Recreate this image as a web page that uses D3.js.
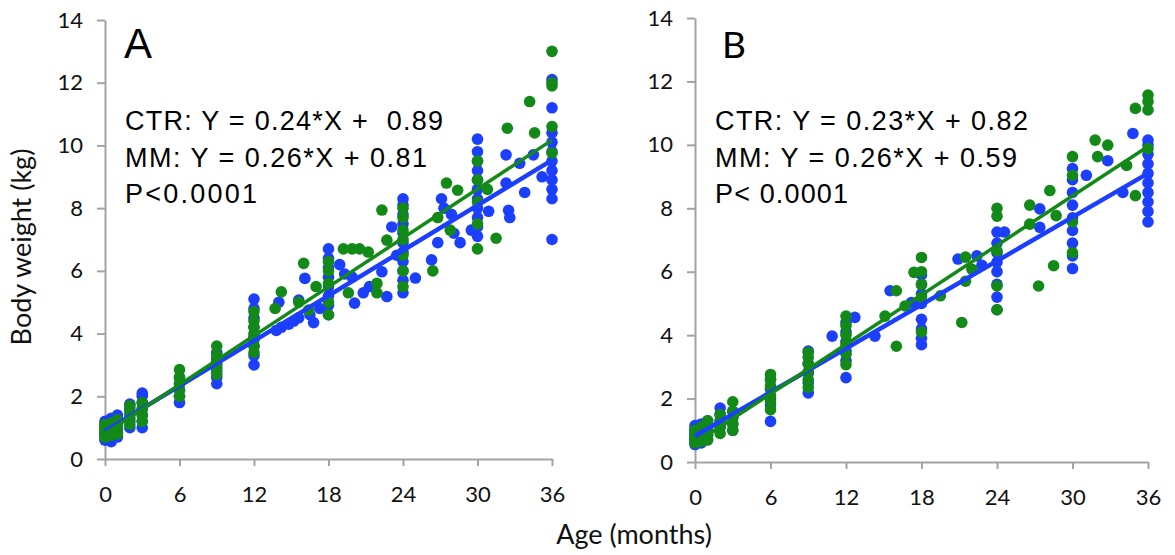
<!DOCTYPE html>
<html><head><meta charset="utf-8">
<script src="https://cdn.jsdelivr.net/npm/d3@7"></script>
<style>body{margin:0;background:#fff}svg{display:block}text{white-space:pre}</style>
</head><body><svg id="c" width="1175" height="555"></svg>
<script>
// ---------- data ----------
const ageTicks = [0, 6, 12, 18, 24, 30, 36];
const weightTicks = [0, 2, 4, 6, 8, 10, 12, 14];

// Panel A, CTR (blue) : [age (months), body weight (kg)]
const ctrA = [
  [0,0.6],[0,0.7],[0,0.8],[0,0.9],[0,1.0],[0,1.1],[0,1.2],
  [0.5,0.55],[0.5,0.75],[0.5,0.9],[0.5,1.05],[0.5,1.2],[0.5,1.3],
  [1,0.7],[1,0.85],[1,1.0],[1,1.15],[1,1.3],[1,1.4],
  [2,1.0],[2,1.2],[2,1.4],[2,1.6],[2,1.75],
  [3,1.0],[3,1.2],[3,1.4],[3,1.6],[3,1.8],[3,2.0],[3,2.1],
  [6,1.8],[6,2.0],[6,2.2],[6,2.4],[6,2.6],
  [9,2.4],[9,2.6],[9,2.8],[9,3.0],[9,3.2],[9,3.4],
  [12,3.0],[12,3.3],[12,3.6],[12,3.9],[12,4.2],[12,4.5],[12,4.8],[12,5.1],
  [13.8,4.1],[14.0,5.0],[14.2,4.2],[14.8,4.3],[15.2,4.4],[15.6,4.5],[15.6,5.07],[16.1,5.76],[16.5,4.6],[16.8,4.35],[17.3,4.8],
  [18,4.6],[18,4.9],[18,5.2],[18,5.5],[18,5.8],[18,6.1],[18,6.4],[18,6.7],
  [18.9,6.2],[19.3,5.9],[19.9,5.8],[20.1,4.97],[20.8,5.3],[21.3,5.5],[22.3,5.97],[22.7,5.18],[23.1,7.4],[23.5,6.5],
  [24,5.3],[24,5.7],[24,6.0],[24,6.3],[24,6.6],[24,6.9],[24,7.2],[24,7.5],[24,7.8],[24,8.1],[24,8.3],
  [25.0,5.77],[26.3,6.35],[26.8,6.9],[27.1,8.3],[27.3,8.0],[27.9,7.8],[28.1,7.2],[28.6,6.9],[29.5,7.3],
  [30,7.1],[30,7.4],[30,7.7],[30,8.0],[30,8.3],[30,8.6],[30,8.9],[30,9.2],[30,9.5],[30,9.8],[30,10.2],
  [30.9,7.9],[32.3,9.7],[32.3,8.8],[32.5,7.93],[32.6,7.7],[33.4,9.43],[33.8,8.5],[34.5,9.7],[35.2,9.0],
  [36,7.0],[36,8.3],[36,8.6],[36,8.9],[36,9.2],[36,9.5],[36,9.8],[36,10.1],[36,10.4],[36,11.2],[36,12.1]
];
// Panel A, MM (green)
const mmA = [
  [0,0.7],[0,0.8],[0,0.9],[0,1.0],[0,1.1],
  [0.5,0.75],[0.5,0.85],[0.5,0.95],[0.5,1.05],[0.5,1.15],
  [1,0.8],[1,0.95],[1,1.1],[1,1.25],
  [2,1.1],[2,1.3],[2,1.5],[2,1.7],
  [3,1.2],[3,1.4],[3,1.6],[3,1.8],
  [6,2.0],[6,2.2],[6,2.4],[6,2.6],[6,2.85],
  [9,2.7],[9,2.9],[9,3.1],[9,3.3],[9,3.6],
  [12,3.4],[12,3.6],[12,3.8],[12,4.0],[12,4.2],[12,4.4],[12,4.7],
  [13.7,4.8],[14.2,5.33],[15.6,5.0],[16.0,6.24],[16.4,4.75],[17.0,5.5],
  [18,4.6],[18,5.0],[18,5.6],[18,6.0],[18,6.3],
  [19.2,6.7],[19.6,5.3],[19.9,6.7],[20.5,6.7],[21.2,6.6],[21.9,5.3],[21.9,5.6],[22.3,7.94],[22.7,6.98],
  [24,5.5],[24,6.0],[24,6.5],[24,7.0],[24,7.3],[24,7.7],[24,8.0],
  [26.4,6.0],[26.8,7.7],[27.5,8.8],[27.8,7.3],[28.4,8.57],
  [30,6.7],[30,7.5],[30,8.2],[30,8.9],[30,9.5],
  [30.8,8.6],[31.5,7.04],[32.4,10.55],[34.2,11.4],[34.6,10.4],
  [36,9.76],[36,10.6],[36,11.9],[36,12.0],[36,13.0]
];
// Panel B, CTR (blue)
const ctrB = [
  [0,0.55],[0,0.65],[0,0.75],[0,0.85],[0,0.95],[0,1.05],[0,1.15],
  [0.5,0.6],[0.5,0.75],[0.5,0.9],[0.5,1.05],[0.5,1.2],
  [1,0.7],[1,0.85],[1,1.0],[1,1.15],[1,1.3],
  [2,1.1],[2,1.3],[2,1.5],[2,1.7],
  [3,1.0],[3,1.2],[3,1.4],[3,1.6],
  [6,1.28],[6,1.8],[6,2.0],[6,2.3],[6,2.6],
  [9,2.18],[9,2.5],[9,2.8],[9,3.1],[9,3.5],
  [12,2.66],[12,3.2],[12,3.5],[12,3.8],[12,4.1],[12,4.4],
  [10.9,3.97],[12.7,4.56],[14.3,3.97],[15.5,5.4],[17.2,5.03],
  [18,3.7],[18,3.9],[18,4.2],[18,4.5],[18,5.0],[18,5.3],[18,5.6],[18,5.9],
  [20.9,6.4],[22.4,6.5],[22.8,6.2],
  [24,4.8],[24,5.2],[24,5.6],[24,6.0],[24,6.3],[24,6.6],[24,6.9],[24,7.25],
  [24.6,7.25],[27.4,7.98],[27.4,7.4],
  [30,6.1],[30,6.5],[30,6.9],[30,7.3],[30,7.7],[30,8.1],[30,8.5],[30,8.9],[30,9.25],
  [31.1,9.04],[32.8,9.5],[34.0,8.5],[34.8,10.36],
  [36,7.57],[36,7.9],[36,8.2],[36,8.5],[36,8.8],[36,9.1],[36,9.4],[36,9.7],[36,10.0],[36,10.15]
];
// Panel B, MM (green)
const mmB = [
  [0,0.6],[0,0.7],[0,0.8],[0,0.9],[0,1.0],
  [0.5,0.65],[0.5,0.8],[0.5,0.95],[0.5,1.1],
  [1,0.7],[1,0.85],[1,1.0],[1,1.2],[1,1.3],
  [2,0.9],[2,1.1],[2,1.3],[2,1.5],
  [3,1.0],[3,1.2],[3,1.4],[3,1.6],[3,1.9],
  [6,1.65],[6,1.9],[6,2.1],[6,2.4],[6,2.6],[6,2.76],
  [9,2.35],[9,2.6],[9,2.85],[9,3.1],[9,3.3],[9,3.45],
  [12,3.07],[12,3.4],[12,3.7],[12,4.0],[12,4.3],[12,4.6],
  [15.1,4.6],[16.0,3.65],[16.0,5.4],[16.7,4.92],[17.4,5.98],
  [18,4.1],[18,5.2],[18,5.6],[18,6.0],[18,6.45],
  [19.5,5.24],[21.2,4.4],[21.5,6.46],[21.5,5.7],[22.0,6.08],
  [24,4.8],[24,5.55],[24,6.66],[24,7.75],[24,8.0],
  [26.6,8.1],[26.6,7.5],[27.3,5.55],[28.2,8.56],[28.5,6.19],[28.7,7.77],
  [30,6.6],[30,7.57],[30,9.04],[30,9.63],
  [31.8,10.15],[32.0,9.63],[32.8,9.99],[34.3,9.35],[35.0,8.4],[35.0,11.15],
  [36,9.88],[36,11.1],[36,11.37],[36,11.57]
];
// regression fits [slope, intercept]
const fitCtrA = [0.24, 0.89], fitMmA = [0.26, 0.81];
const fitCtrB = [0.23, 0.82], fitMmB = [0.26, 0.59];
const panelLetters = ["A", "B"];
const eqA = ["CTR: Y = 0.24*X +  0.89", "MM: Y = 0.26*X + 0.81", "P<0.0001"];
const eqB = ["CTR: Y = 0.23*X + 0.82", "MM: Y = 0.26*X + 0.59", "P< 0.0001"];
const xTitle = "Age (months)", yTitle = "Body weight (kg)";

// ---------- drawing ----------
const BLUE = "#1b3ffd", GREEN = "#138a17", AXIS = "#a3a3a3";
const svg = d3.select("#c");

const panels = [
  {ctr: ctrA, mm: mmA, fc: fitCtrA, fm: fitMmA, eq: eqA, letter: panelLetters[0],
   x0: 105, x1: 552, y0: 459, y1: 20, eqW: [318, 302, 132], letterFont: "Liberation Sans, Arial, sans-serif", letterSize: 42, letterDx: 19},
  {ctr: ctrB, mm: mmB, fc: fitCtrB, fm: fitMmB, eq: eqB, letter: panelLetters[1],
   x0: 695, x1: 1148, y0: 462, y1: 18, eqW: [313, 302, 133], letterFont: "Lato, sans-serif", letterSize: 37, letterDx: 27}
];

panels.forEach(p => {
  const x = d3.scaleLinear().domain([0, 36]).range([p.x0, p.x1]);
  const y = d3.scaleLinear().domain([0, 14]).range([p.y0, p.y1]);
  const g = svg.append("g");

  // axes
  const ya = g.append("g").attr("transform", `translate(${p.x0},0)`)
    .call(d3.axisLeft(y).tickValues(weightTicks).tickSize(8).tickSizeOuter(0).tickPadding(14));
  const xa = g.append("g").attr("transform", `translate(0,${p.y0})`)
    .call(d3.axisBottom(x).tickValues(ageTicks).tickSize(7).tickSizeOuter(0).tickPadding(20));
  [ya, xa].forEach(a => {
    a.select(".domain").attr("stroke", AXIS).attr("stroke-width", 2);
    a.selectAll(".tick line").attr("stroke", AXIS).attr("stroke-width", 2);
    a.selectAll(".tick text").attr("fill", "#111").style("font-family", "Lato, sans-serif").style("font-size", "22px");
  });

  // points
  g.append("g").selectAll("circle").data(p.ctr).join("circle")
    .attr("cx", d => x(d[0])).attr("cy", d => y(d[1])).attr("r", 5.8).attr("fill", BLUE);
  g.append("g").selectAll("circle").data(p.mm).join("circle")
    .attr("cx", d => x(d[0])).attr("cy", d => y(d[1])).attr("r", 5.8).attr("fill", GREEN);

  // regression lines
  const seg = f => [0, 36].map(a => [x(a), y(f[0] * a + f[1])]);
  g.append("path").attr("d", d3.line()(seg(p.fc))).attr("stroke", BLUE).attr("stroke-width", 4.5).attr("fill", "none");
  g.append("path").attr("d", d3.line()(seg(p.fm))).attr("stroke", GREEN).attr("stroke-width", 3.5).attr("fill", "none");

  // panel letter
  g.append("text").attr("x", p.x0 + p.letterDx).attr("y", 58)
    .style("font-family", p.letterFont).style("font-size", p.letterSize + "px").attr("fill", "#000").text(p.letter);

  // equations
  p.eq.forEach((t, i) => {
    g.append("text").attr("x", p.x0 + 20).attr("y", [130, 166.5, 202.5][i])
      .style("font-family", "Liberation Sans, Arial, sans-serif").style("font-size", "27px").attr("fill", "#000")
      .attr("textLength", p.eqW[i]).attr("lengthAdjust", "spacing").text(t);
  });
});

// axis titles
svg.append("text").attr("x", 634).attr("y", 544).attr("text-anchor", "middle")
  .style("font-family", "Lato, sans-serif").style("font-size", "27px").attr("fill", "#111").text(xTitle);
svg.append("text").attr("transform", "translate(31,247) rotate(-90)").attr("text-anchor", "middle")
  .style("font-family", "Lato, sans-serif").style("font-size", "27px").attr("fill", "#111").text(yTitle);
</script></body></html>
